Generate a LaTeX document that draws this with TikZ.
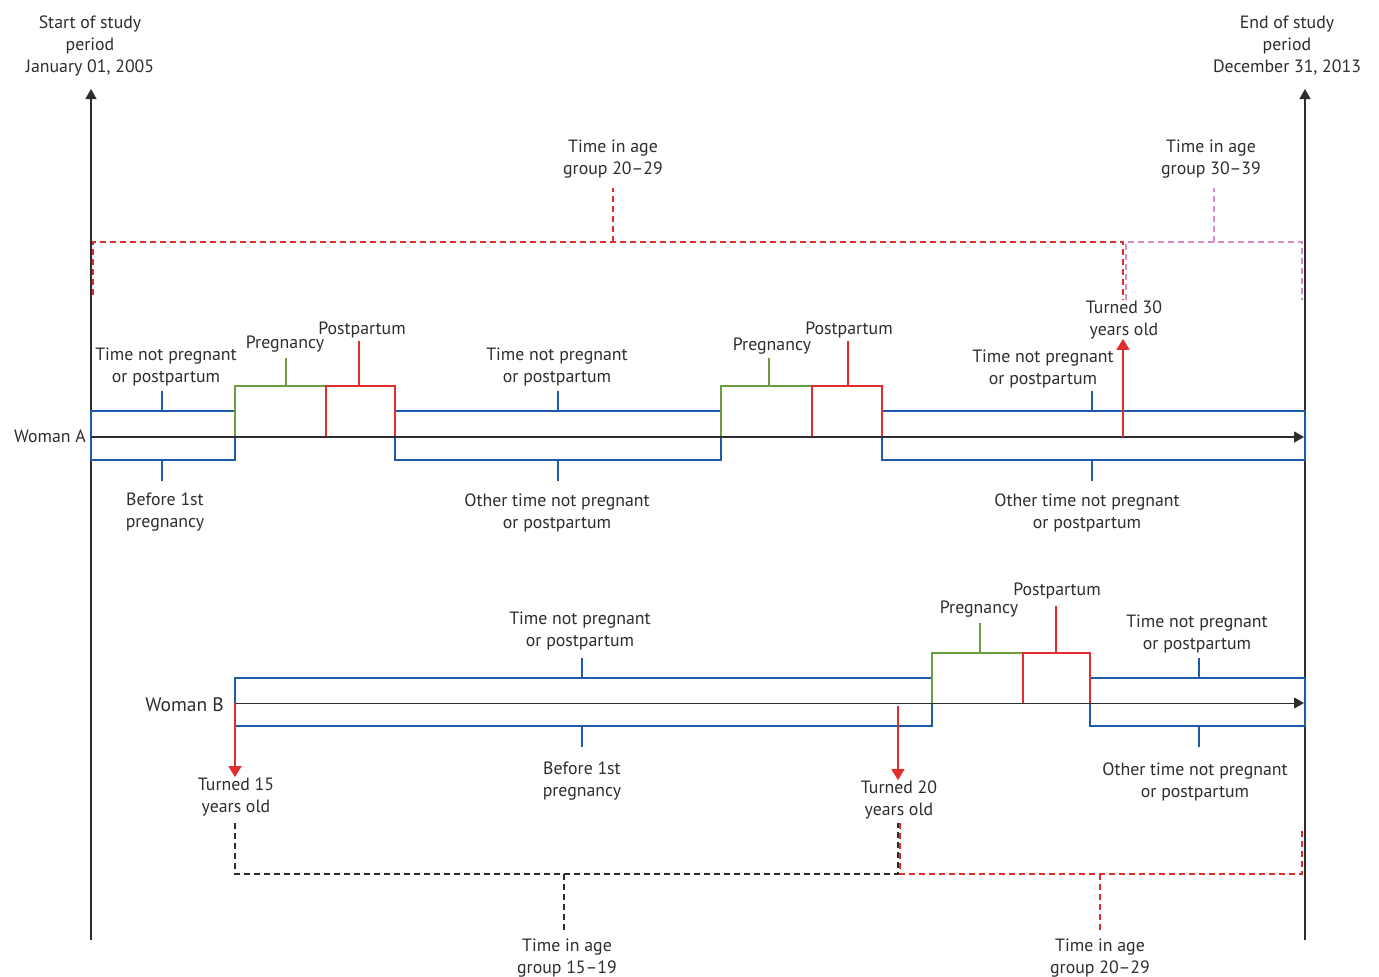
\documentclass[tikz,border=0pt]{standalone}
\usepackage{fontspec}
\setmainfont{PT Sans}
\usetikzlibrary{arrows.meta,positioning}
\definecolor{axgray}{RGB}{45,45,45}
\definecolor{npblue}{RGB}{30,90,170}
\definecolor{pgreen}{RGB}{106,158,63}
\definecolor{ppred}{RGB}{225,45,45}
\definecolor{grppink}{RGB}{215,140,205}
\tikzset{
  lbl/.style={align=center, inner sep=0pt, yshift=-1.5pt, text=axgray, font=\fontsize{17.8}{22}\selectfont},
  axis/.style={draw=axgray, line width=1.3pt, -{Triangle[length=10pt,width=11pt]}},
  notpp/.style={draw=npblue, line width=1.3pt},
  preg/.style={draw=pgreen, line width=1.3pt},
  post/.style={draw=ppred, line width=1.3pt},
  turned/.style={draw=ppred, fill=ppred, line width=1.3pt, -{Triangle[length=11pt,width=13pt]}},
  grp/.style={line width=1.2pt, dash pattern=on 6pt off 4pt}
}
\begin{document}
\begin{tikzpicture}[x=1pt,y=-1pt]
	\useasboundingbox (0,0) rectangle (1379,977);
	% study period
	\node[lbl] (start) at (90,44) {Start of study\\period\\January 01, 2005};
	\node[lbl] (end) at (1287,44) {End of study\\period\\December 31, 2013};
	\coordinate (startlow) at (91,940);
	\coordinate (starttop) at (91,89);
	\coordinate (endlow) at (1305,940);
	\coordinate (endtop) at (1305,89);
	\draw[axis] (startlow) -- (starttop);
	\draw[axis] (endlow) -- (endtop);

	% woman A
	\node[lbl, anchor=east] (womanA) at (86,435) {Woman A};
	\draw[notpp] (91,411) rectangle (235,460);
	\draw[notpp] (395,411) rectangle (721,460);
	\draw[notpp] (882,411) rectangle (1305,460);
	\draw[preg] (235,437) |- (326,386);
	\draw[post] (326,437) |- (395,386) -- (395,437);
	\draw[preg] (721,437) |- (812,386);
	\draw[post] (812,437) |- (882,386) -- (882,437);
	\coordinate (a0) at (91,437);
	\coordinate (a1) at (1304,437);
	\draw[axis] (a0) -- (a1);

	\node[lbl] (notA1) at (166,365) {Time not pregnant\\or postpartum};
	\node[lbl] (befA) at (165,511) {Before 1st\\pregnancy};
	\node[lbl] (pregA1) at (285,343) {Pregnancy};
	\node[lbl] (postA1) at (362,328) {Postpartum};
	\node[lbl] (notA2) at (557,365) {Time not pregnant\\or postpartum};
	\node[lbl] (othA2) at (557,511) {Other time not pregnant\\or postpartum};
	\node[lbl] (pregA2) at (772,345) {Pregnancy};
	\node[lbl] (postA2) at (849,328) {Postpartum};
	\node[lbl] (notA3) at (1043,367) {Time not pregnant\\or postpartum};
	\node[lbl] (othA3) at (1087,511) {Other time not pregnant\\or postpartum};
	\node[lbl] (age30) at (1124,318) {Turned 30\\years old};

	\draw[notpp] (162,391) -- (162,411);
	\draw[notpp] (162,460) -- (162,481);
	\draw[preg] (286,358) -- (286,386);
	\draw[post] (359,341) -- (359,386);
	\draw[notpp] (558,391) -- (558,411);
	\draw[notpp] (558,460) -- (558,481);
	\draw[preg] (769,358) -- (769,386);
	\draw[post] (848,341) -- (848,386);
	\draw[notpp] (1092,391) -- (1092,411);
	\draw[notpp] (1092,460) -- (1092,481);
	\coordinate (turn30) at (1123,437);
	\draw[turned] (turn30) -- (age30.south -| turn30);

	% age groups of woman A
	\node[lbl] (grpA20) at (613,158) {Time in age\\group 20–29};
	\node[lbl] (grpA30) at (1211,158) {Time in age\\group 30–39};
	\draw[grp, draw=ppred] (93,295) |- (1123,242) -- (1123,300);
	\draw[grp, draw=ppred] (613,242) -- (613,188);
	\draw[grp, draw=grppink] (1126,300) |- (1302,242) -- (1302,300);
	\draw[grp, draw=grppink] (1214,242) -- (1214,188);

	% woman B
	\node[lbl, anchor=east, font=\fontsize{19.5}{22}\selectfont] (womanB) at (224,703) {Woman B};
	\draw[notpp] (235,678) rectangle (932,726);
	\draw[notpp] (1090,678) rectangle (1305,726);
	\draw[preg] (932,703) |- (1023,653);
	\draw[post] (1023,703) |- (1090,653) -- (1090,703);
	\coordinate (b0) at (235,703);
	\coordinate (b1) at (1304,703);
	\draw[axis, line width=1pt] (b0) -- (b1);

	\node[lbl] (notB1) at (580,629) {Time not pregnant\\or postpartum};
	\node[lbl] (befB) at (582,780) {Before 1st\\pregnancy};
	\node[lbl] (pregB) at (979,608) {Pregnancy};
	\node[lbl] (postB) at (1057,589) {Postpartum};
	\node[lbl] (notB2) at (1197,632) {Time not pregnant\\or postpartum};
	\node[lbl] (othB2) at (1195,780) {Other time not pregnant\\or postpartum};
	\node[lbl] (age15) at (236,795) {Turned 15\\years old};
	\node[lbl] (age20) at (899,798) {Turned 20\\years old};

	\draw[notpp] (582,658) -- (582,678);
	\draw[notpp] (582,726) -- (582,747);
	\draw[preg] (980,623) -- (980,653);
	\draw[post] (1056,606) -- (1056,653);
	\draw[notpp] (1199,658) -- (1199,678);
	\draw[notpp] (1199,726) -- (1199,747);
	\coordinate (turn15) at (235,703);
	\coordinate (turn20) at (898,706);
	\draw[turned] (turn15) -- (age15.north -| turn15);
	\draw[turned] (turn20) -- (age20.north -| turn20);

	% age groups of woman B
	\node[lbl] (grpB15) at (567,957) {Time in age\\group 15–19};
	\node[lbl] (grpB20) at (1100,957) {Time in age\\group 20–29};
	\draw[grp, draw=axgray] (235,823) |- (898,874) -- (898,823);
	\draw[grp, draw=axgray] (564,874) -- (564,930);
	\draw[grp, draw=ppred] (900,823) |- (1302,874) -- (1302,828);
	\draw[grp, draw=ppred] (1100,874) -- (1100,930);
\end{tikzpicture}
\end{document}
